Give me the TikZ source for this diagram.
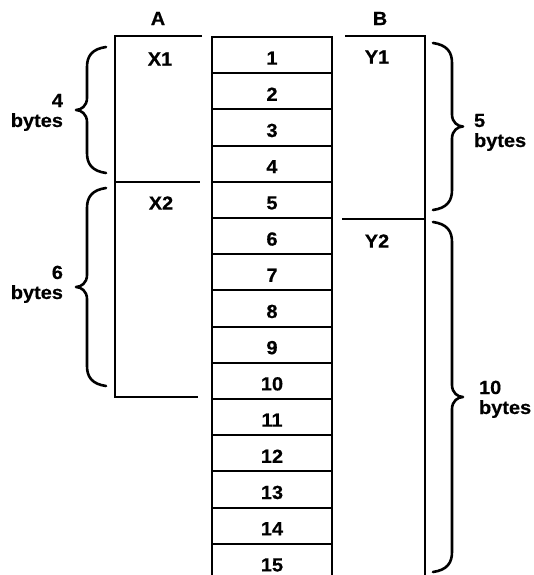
\documentclass[tikz,border=0pt]{standalone}
\usepackage{fontspec}
\setmainfont{Liberation Sans}[FakeStretch=1.05,BoldFeatures={FakeBold=0.5}]
\newcommand{\mylblfont}{\bfseries\fontsize{19}{21}\selectfont}
\newcommand{\mybraceleft}[3]{%
 \draw[brc] (#1,#2) .. controls ({#1-14},{#2+2}) and ({#1-19},{#2+9}) .. ({#1-19},{#2+20})
   -- ({#1-19},{(#2+#3)/2-12}) .. controls ({#1-19},{(#2+#3)/2-4}) and ({#1-25},{(#2+#3)/2}) .. ({#1-30},{(#2+#3)/2})
   .. controls ({#1-25},{(#2+#3)/2}) and ({#1-19},{(#2+#3)/2+4}) .. ({#1-19},{(#2+#3)/2+12})
   -- ({#1-19},{#3-20}) .. controls ({#1-19},{#3-9}) and ({#1-14},{#3-2}) .. (#1,#3);}
\newcommand{\mybraceright}[3]{%
 \draw[brc] (#1,#2) .. controls ({#1+14},{#2+2}) and ({#1+19},{#2+9}) .. ({#1+19},{#2+20})
   -- ({#1+19},{(#2+#3)/2-12}) .. controls ({#1+19},{(#2+#3)/2-4}) and ({#1+25},{(#2+#3)/2}) .. ({#1+30},{(#2+#3)/2})
   .. controls ({#1+25},{(#2+#3)/2}) and ({#1+19},{(#2+#3)/2+4}) .. ({#1+19},{(#2+#3)/2+12})
   -- ({#1+19},{#3-20}) .. controls ({#1+19},{#3-9}) and ({#1+14},{#3-2}) .. (#1,#3);}
\begin{document}
\begin{tikzpicture}[x=1pt,y=-1pt,line width=2.1pt,
  cell/.style={draw,minimum width=120pt,minimum height=36.2pt,inner sep=0pt,
               text height=19pt,text depth=0pt,font=\mylblfont},
  lbl/.style={font=\mylblfont,inner sep=0pt},
  brc/.style={line width=2.6pt,line cap=round,line join=round}]
\useasboundingbox (0,0) rectangle (533,575);
% central byte column
\foreach \k in {1,...,15}
  \node[cell] (b\k) at (272,{37+36.2*(\k-0.5)}) {\k};
% field A
\node[lbl] (A) at (158,18.5) {A};
\draw (202,36) -- (115,36) -- (115,397) -- (198,397);
\draw (115,182) -- (200,182);
\node[lbl] (X1) at (160,59) {X1};
\node[lbl] (X2) at (161,203) {X2};
% field B
\node[lbl] (B) at (380,18.5) {B};
\draw (345,36) -- (425,36) -- (425,577);
\draw (342,219) -- (425,219);
\node[lbl] (Y1) at (377,57) {Y1};
\node[lbl] (Y2) at (377,241) {Y2};
% braces
\mybraceleft{106}{47}{173}
\mybraceleft{106}{188}{386}
\mybraceright{433}{43}{210}
\mybraceright{433}{222}{572}
% brace labels
\node[lbl,anchor=base east] (l4a) at (64,107) {4};
\node[lbl,anchor=base east] (l4b) at (64,127) {bytes};
\node[lbl,anchor=base east] (l6a) at (64,279) {6};
\node[lbl,anchor=base east] (l6b) at (64,299) {bytes};
\node[lbl,anchor=base west] (l5a) at (473,127) {5};
\node[lbl,anchor=base west] (l5b) at (473,147) {bytes};
\node[lbl,anchor=base west] (l10a) at (478,394) {10};
\node[lbl,anchor=base west] (l10b) at (478,414) {bytes};
\end{tikzpicture}
\end{document}
